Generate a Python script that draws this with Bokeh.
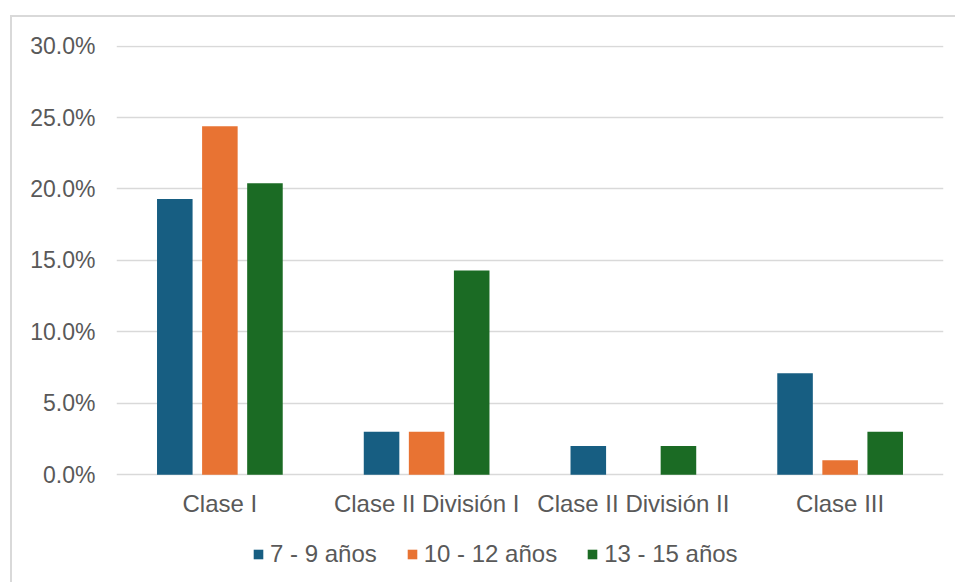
from bokeh.plotting import figure
from bokeh.models import (ColumnDataSource, FactorRange, Range1d, NumeralTickFormatter,
                          FixedTicker, Legend, LegendItem)
from bokeh.core.properties import value
from bokeh.transform import dodge
from bokeh.embed import file_html
from bokeh.resources import INLINE

# Malocclusion class shares by age group
categories = ["Clase I", "Clase II División I", "Clase II División II", "Clase III"]
age_7_9 = [0.193, 0.030, 0.020, 0.071]
age_10_12 = [0.244, 0.030, 0.0, 0.010]
age_13_15 = [0.204, 0.143, 0.020, 0.030]
series_labels = ["7 - 9 años", "10 - 12 años", "13 - 15 años"]
series_colors = ["#175e82", "#e87333", "#1b6b24"]
y_ticks = [0.0, 0.05, 0.10, 0.15, 0.20, 0.25, 0.30]

source = ColumnDataSource(dict(cat=categories, a=age_7_9, b=age_10_12, c=age_13_15))

FONT = "Liberation Sans"
TEXT = "#595959"
GRID = "#d9d9d9"

# plot geometry (pixels): the value axis spans 429 px, with 110 px below it
# for the category labels and the legend
AXIS_PX = 429.0
BELOW_PX = 110.0
y_max = max(y_ticks)
y_min = -BELOW_PX / AXIS_PX * y_max

p = figure(x_range=FactorRange(*categories), y_range=Range1d(y_min, y_max * 1.0015),
           width=945, height=567, output_backend="svg", toolbar_location=None,
           min_border_left=104, min_border_right=14, min_border_top=28, min_border_bottom=0)
p.styles = {"margin-left": "10px", "margin-top": "15px",
            "border-left": "2px solid #d9d9d9", "border-top": "2px solid #d9d9d9"}
p.outline_line_color = None
p.background_fill_color = "white"
p.border_fill_color = "white"

offsets = [-0.218, 0.0, 0.218]
renderers = []
for col, off, color in zip(["a", "b", "c"], offsets, series_colors):
    r = p.vbar(x=dodge("cat", off, range=p.x_range), top=col, width=0.172, bottom=0,
               source=source, fill_color=color, line_color=None)
    renderers.append(r)

# category labels under the baseline
p.text(x=categories, y=[0.0] * len(categories), text=categories, y_offset=29,
       text_align="center", text_baseline="middle", text_font=value(FONT),
       text_font_size="24px", text_color=TEXT)

# axes
p.xaxis.visible = False
p.yaxis.ticker = FixedTicker(ticks=y_ticks)
p.yaxis.formatter = NumeralTickFormatter(format="0.0%")
p.yaxis.axis_line_color = None
p.yaxis.major_tick_line_color = None
p.yaxis.minor_tick_line_color = None
p.yaxis.major_label_standoff = 15
p.yaxis.major_label_text_font = FONT
p.yaxis.major_label_text_font_size = "23px"
p.yaxis.major_label_text_color = TEXT

p.xgrid.grid_line_color = None
p.ygrid.ticker = FixedTicker(ticks=y_ticks)
p.ygrid.grid_line_color = GRID
p.ygrid.grid_line_width = 1.5

legend = Legend(items=[LegendItem(label=lab, renderers=[r]) for lab, r in zip(series_labels, renderers)],
                orientation="horizontal", location=(136, 16),
                glyph_width=12, glyph_height=12, label_standoff=6, spacing=29,
                padding=0, margin=0, border_line_color=None, background_fill_alpha=0,
                label_text_font=FONT, label_text_font_size="24px", label_text_color=TEXT)
p.add_layout(legend, "center")

open("out.html", "w").write(file_html(p, INLINE))
